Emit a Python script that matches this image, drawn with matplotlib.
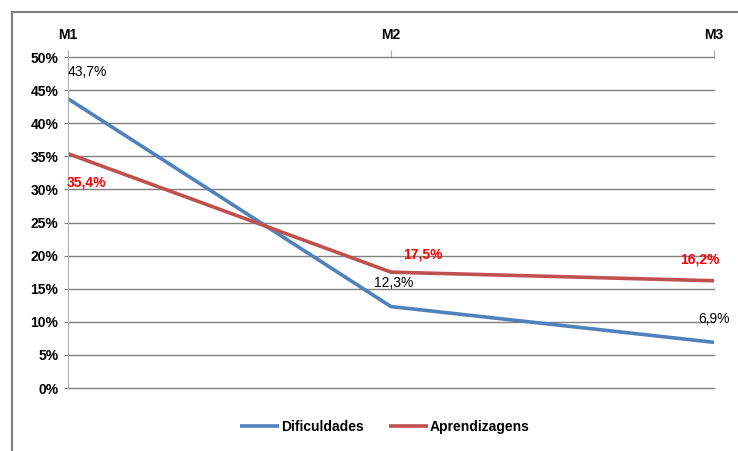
import matplotlib
matplotlib.use("Agg")
import matplotlib.pyplot as plt
from matplotlib.patches import Rectangle

categories = ["M1", "M2", "M3"]
dificuldades = [43.7, 12.3, 6.9]
aprendizagens = [35.4, 17.5, 16.2]
dif_labels = ["43,7%", "12,3%", "6,9%"]
apr_labels = ["35,4%", "17,5%", "16,2%"]
yticks = [0, 5, 10, 15, 20, 25, 30, 35, 40, 45, 50]

plt.rcParams['font.family'] = ['Liberation Sans', 'DejaVu Sans']

fig = plt.figure(figsize=(7.38, 4.51), dpi=100)
ax = fig.add_axes([68/738, 1-388/451, (714-68)/738, (388-57)/451])

blue = "#4F81BD"
red = "#C0504D"
x = list(range(len(categories)))
ax.plot(x, dificuldades, color=blue, lw=2.6, label="Dificuldades", solid_capstyle="butt")
ax.plot(x, aprendizagens, color=red, lw=2.6, label="Aprendizagens", solid_capstyle="butt")

ax.set_xlim(0, 2)
ax.set_ylim(0, 50)
ax.set_yticks(yticks)
ax.set_yticklabels([f"{v}%" for v in yticks], fontsize=10, fontweight="bold")
ax.xaxis.tick_top()
ax.set_xticks(x)
ax.set_xticklabels(categories, fontsize=10, fontweight="bold")
ax.tick_params(axis="x", length=5, color="#B0B0B0", pad=6)
ax.tick_params(axis="y", length=3, color="#808080", pad=4)
ax.grid(axis="y", color="#808080", lw=1)
for gl in ax.get_ygridlines():
    gl.set_clip_on(False)
ax.set_axisbelow(True)
for s in ["right", "bottom", "top"]:
    ax.spines[s].set_visible(False)
ax.spines["left"].set_color("#B0B0B0")

# data labels
dif_off = [(0, 14), (2, 12), (0, 12)]
dif_ha = ["left", "center", "center"]
apr_off = [(-1, -26), (23, 8), (-10, 10)]
apr_ha = ["left", "center", "center"]
for i in x:
    ax.annotate(dif_labels[i], (x[i], dificuldades[i]), xytext=dif_off[i], textcoords="offset points",
                ha=dif_ha[i], va="bottom", fontsize=10, color="black", annotation_clip=False)
    ax.annotate(apr_labels[i], (x[i], aprendizagens[i]), xytext=apr_off[i], textcoords="offset points",
                ha=apr_ha[i], va="bottom", fontsize=10, color="#FF0000", fontweight="bold",
                annotation_clip=False)

leg = fig.legend(loc="center", bbox_to_anchor=(385/738, 1-427/451), ncol=2, frameon=False,
                 prop={"size": 10, "weight": "bold"}, handlelength=2.8, columnspacing=1.8,
                 handletextpad=0.15)

fig.patches.append(Rectangle((12/738, -20/451), 760/738, (439+20)/451, transform=fig.transFigure,
                             fill=False, edgecolor="#808080", lw=1.5))

fig.savefig("out.png", dpi=100)
